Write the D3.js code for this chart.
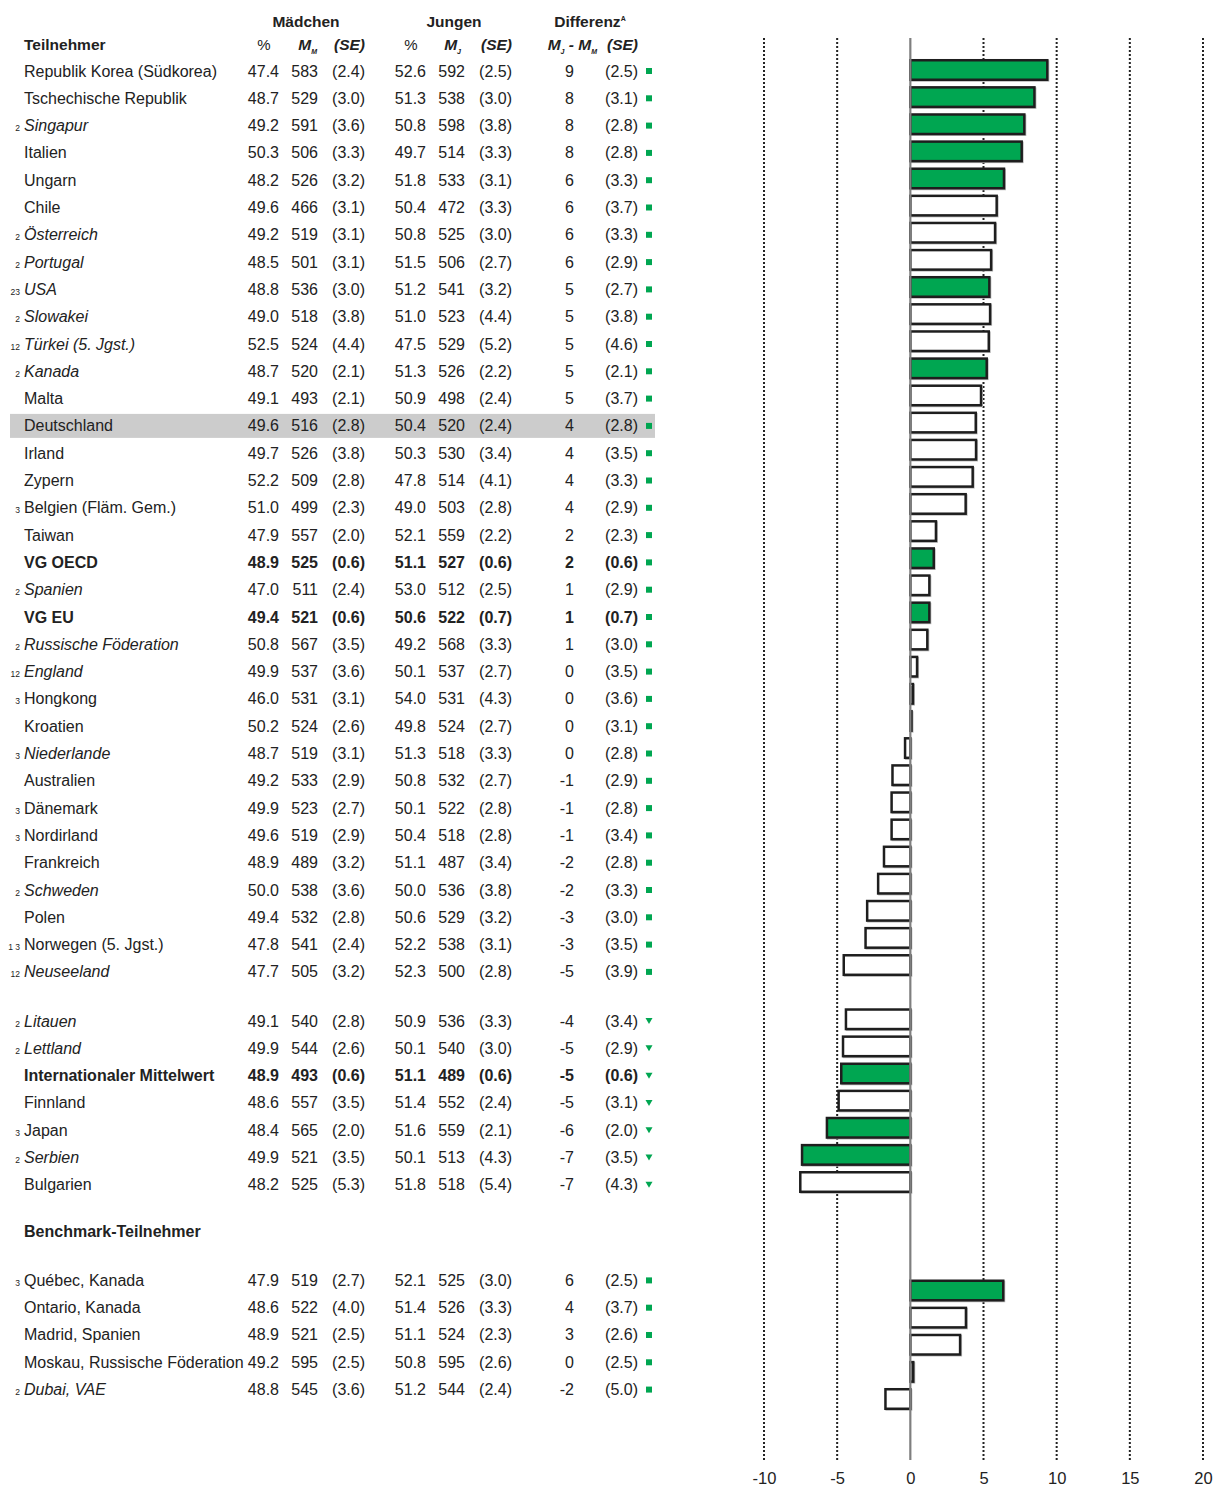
<!DOCTYPE html>
<html>
<head>
<meta charset="utf-8">
<script src="https://cdn.jsdelivr.net/npm/d3@7"></script>
<style>
  body { margin: 0; background: #fff; }
  svg { display: block; }
  text { font-family: "Liberation Sans", Arial, sans-serif; fill: #222; }
</style>
</head>
<body>
<svg id="chart" width="1215" height="1490"></svg>
<script>
// ---------- DATA ----------
const names = ["Republik Korea (Südkorea)","Tschechische Republik","Singapur","Italien","Ungarn","Chile","Österreich","Portugal","USA","Slowakei","Türkei (5. Jgst.)","Kanada","Malta","Deutschland","Irland","Zypern","Belgien (Fläm. Gem.)","Taiwan","VG OECD","Spanien","VG EU","Russische Föderation","England","Hongkong","Kroatien","Niederlande","Australien","Dänemark","Nordirland","Frankreich","Schweden","Polen","Norwegen (5. Jgst.)","Neuseeland",
  "Litauen","Lettland","Internationaler Mittelwert","Finnland","Japan","Serbien","Bulgarien",
  "Québec, Kanada","Ontario, Kanada","Madrid, Spanien","Moskau, Russische Föderation","Dubai, VAE"];
const groups = [0,0,0,0,0,0,0,0,0,0,0,0,0,0,0,0,0,0,0,0,0,0,0,0,0,0,0,0,0,0,0,0,0,0, 1,1,1,1,1,1,1, 2,2,2,2,2];
const footnotes = ["","","2","","","","2","2","23","2","12","2","","","","","3","","","2","","2","12","3","","3","","3","3","","2","","1 3","12",
  "2","2","","","3","2","", "3","","","","2"];
const italicRows = ["Singapur","Österreich","Portugal","USA","Slowakei","Türkei (5. Jgst.)","Kanada","Spanien","Russische Föderation","England","Niederlande","Schweden","Neuseeland","Litauen","Lettland","Serbien","Dubai, VAE"];
const boldRows = ["VG OECD","VG EU","Internationaler Mittelwert"];
const highlightRow = "Deutschland";
const girlsPct = ["47.4","48.7","49.2","50.3","48.2","49.6","49.2","48.5","48.8","49.0","52.5","48.7","49.1","49.6","49.7","52.2","51.0","47.9","48.9","47.0","49.4","50.8","49.9","46.0","50.2","48.7","49.2","49.9","49.6","48.9","50.0","49.4","47.8","47.7",
  "49.1","49.9","48.9","48.6","48.4","49.9","48.2", "47.9","48.6","48.9","49.2","48.8"];
const girlsMean = [583,529,591,506,526,466,519,501,536,518,524,520,493,516,526,509,499,557,525,511,521,567,537,531,524,519,533,523,519,489,538,532,541,505,
  540,544,493,557,565,521,525, 519,522,521,595,545];
const girlsSE = ["2.4","3.0","3.6","3.3","3.2","3.1","3.1","3.1","3.0","3.8","4.4","2.1","2.1","2.8","3.8","2.8","2.3","2.0","0.6","2.4","0.6","3.5","3.6","3.1","2.6","3.1","2.9","2.7","2.9","3.2","3.6","2.8","2.4","3.2",
  "2.8","2.6","0.6","3.5","2.0","3.5","5.3", "2.7","4.0","2.5","2.5","3.6"];
const boysPct = ["52.6","51.3","50.8","49.7","51.8","50.4","50.8","51.5","51.2","51.0","47.5","51.3","50.9","50.4","50.3","47.8","49.0","52.1","51.1","53.0","50.6","49.2","50.1","54.0","49.8","51.3","50.8","50.1","50.4","51.1","50.0","50.6","52.2","52.3",
  "50.9","50.1","51.1","51.4","51.6","50.1","51.8", "52.1","51.4","51.1","50.8","51.2"];
const boysMean = [592,538,598,514,533,472,525,506,541,523,529,526,498,520,530,514,503,559,527,512,522,568,537,531,524,518,532,522,518,487,536,529,538,500,
  536,540,489,552,559,513,518, 525,526,524,595,544];
const boysSE = ["2.5","3.0","3.8","3.3","3.1","3.3","3.0","2.7","3.2","4.4","5.2","2.2","2.4","2.4","3.4","4.1","2.8","2.2","0.6","2.5","0.7","3.3","2.7","4.3","2.7","3.3","2.7","2.8","2.8","3.4","3.8","3.2","3.1","2.8",
  "3.3","3.0","0.6","2.4","2.1","4.3","5.4", "3.0","3.3","2.3","2.6","2.4"];
const diffLabel = [9,8,8,8,6,6,6,6,5,5,5,5,5,4,4,4,4,2,2,1,1,1,0,0,0,0,-1,-1,-1,-2,-2,-3,-3,-5,
  -4,-5,-5,-5,-6,-7,-7, 6,4,3,0,-2];
const diffSE = ["2.5","3.1","2.8","2.8","3.3","3.7","3.3","2.9","2.7","3.8","4.6","2.1","3.7","2.8","3.5","3.3","2.9","2.3","0.6","2.9","0.7","3.0","3.5","3.6","3.1","2.8","2.9","2.8","3.4","2.8","3.3","3.0","3.5","3.9",
  "3.4","2.9","0.6","3.1","2.0","3.5","4.3", "2.5","3.7","2.6","2.5","5.0"];
const compareMarker = ["sq","sq","sq","sq","sq","sq","sq","sq","sq","sq","sq","sq","sq","sq","sq","sq","sq","sq","sq","sq","sq","sq","sq","sq","sq","sq","sq","sq","sq","sq","sq","sq","sq","sq",
  "tri","tri","tri","tri","tri","tri","tri", "sq","sq","sq","sq","sq"];
// unrounded differences (bar lengths)
const diffValue = [9.36,8.48,7.79,7.61,6.40,5.90,5.79,5.52,5.40,5.45,5.36,5.22,4.83,4.47,4.49,4.26,3.78,1.75,1.60,1.30,1.30,1.16,0.46,0.18,0.08,-0.36,-1.22,-1.28,-1.28,-1.80,-2.20,-2.95,-3.06,-4.55,
  -4.40,-4.60,-4.72,-4.90,-5.70,-7.40,-7.52, 6.35,3.80,3.40,0.20,-1.70];
const significant = [1,1,1,1,1,0,0,0,1,0,0,1,0,0,0,0,0,0,1,0,1,0,0,0,0,0,0,0,0,0,0,0,0,0,
  0,0,1,0,1,1,0, 1,0,0,0,0];
const axisTicks = [-10,-5,0,5,10,15,20];
const benchmarkTitle = "Benchmark-Teilnehmer";

// ---------- LAYOUT ----------
const GREEN = "#00a651";
const FS = 16;
const svg = d3.select("#chart");
const rowStep = 27.3, rowTop = 71;
const groupTextOffset = [0, 0.8, 3.3];
const groupBarOffset = [0, 1, 4];
const textSlot = i => i + groupTextOffset[groups[i]];
const rowY = i => rowTop + textSlot(i) * rowStep;
const barSlot = i => i + groupBarOffset[groups[i]];

const x = d3.scaleLinear().domain([-10, 20]).range([764, 1203]);
const yBar = d3.scaleBand().domain(d3.range(50)).range([56.44, 1412.56]).paddingInner(0.28).paddingOuter(0.14);

// highlight
const hi = names.indexOf(highlightRow);
svg.append("rect").attr("x", 10).attr("y", rowY(hi) - 12).attr("width", 645).attr("height", 24).attr("fill", "#cccccc");

// headers
const hdr = svg.append("g").attr("font-weight", "bold").attr("font-size", 15.5);
hdr.append("text").attr("x", 306).attr("y", 27).attr("text-anchor", "middle").text("Mädchen");
hdr.append("text").attr("x", 454).attr("y", 27).attr("text-anchor", "middle").text("Jungen");
const dt = hdr.append("text").attr("x", 590).attr("y", 27).attr("text-anchor", "middle");
dt.append("tspan").text("Differenz");
dt.append("tspan").attr("font-size", 7).attr("dy", -6).text("A");
hdr.append("text").attr("x", 24).attr("y", 50).text("Teilnehmer");
function pctHead(cx) {
  svg.append("text").attr("x", cx).attr("y", 50).attr("text-anchor", "middle").attr("font-size", 15).attr("fill", "#444").text("%");
}
function mHead(xEnd, sub) {
  const t = svg.append("text").attr("x", xEnd).attr("y", 50).attr("text-anchor", "end")
    .attr("font-weight", "bold").attr("font-style", "italic").attr("font-size", 15.5);
  t.append("tspan").text("M");
  t.append("tspan").attr("font-size", 7).attr("dy", 4).text(sub);
}
function seHead(xEnd) {
  svg.append("text").attr("x", xEnd).attr("y", 50).attr("text-anchor", "end")
    .attr("font-weight", "bold").attr("font-style", "italic").attr("font-size", 15.5).text("(SE)");
}
pctHead(264); mHead(317, "M"); seHead(365);
pctHead(411); mHead(461, "J"); seHead(512);
{
  const t = svg.append("text").attr("x", 597).attr("y", 50).attr("text-anchor", "end")
    .attr("font-weight", "bold").attr("font-style", "italic").attr("font-size", 15.5);
  t.append("tspan").text("M");
  t.append("tspan").attr("font-size", 7).attr("dy", 4).text("J");
  t.append("tspan").attr("dy", -4).text(" - M");
  t.append("tspan").attr("font-size", 7).attr("dy", 4).text("M");
}
seHead(638);

// rows
const rows = svg.append("g").attr("font-size", FS);
names.forEach((n, i) => {
  const y = rowY(i) + 5.5;
  const bold = boldRows.includes(n);
  const g = rows.append("g").attr("font-weight", bold ? "bold" : "normal");
  if (footnotes[i]) {
    g.append("text").attr("x", 20).attr("y", y).attr("text-anchor", "end").attr("font-size", 8.5)
      .attr("font-weight", "normal").style("white-space", "pre").text(footnotes[i]);
  }
  g.append("text").attr("x", 24).attr("y", y).attr("font-style", italicRows.includes(n) ? "italic" : "normal").text(n);
  const cols = [
    [279, girlsPct[i]], [318, girlsMean[i]], [365, "(" + girlsSE[i] + ")"],
    [426, boysPct[i]], [465, boysMean[i]], [512, "(" + boysSE[i] + ")"],
    [574, diffLabel[i]], [638, "(" + diffSE[i] + ")"]
  ];
  cols.forEach(([cx, v]) => g.append("text").attr("x", cx).attr("y", y).attr("text-anchor", "end").text(v));
  const my = rowY(i);
  if (compareMarker[i] === "sq") {
    svg.append("rect").attr("x", 646).attr("y", my - 3).attr("width", 6).attr("height", 6).attr("fill", GREEN);
  } else {
    svg.append("path").attr("d", `M${645.5},${my - 3} L${652.5},${my - 3} L${649},${my + 3} Z`).attr("fill", GREEN);
  }
});
svg.append("text").attr("x", 24).attr("y", rowTop + 42.5 * rowStep + 5.5)
  .attr("font-weight", "bold").attr("font-size", FS).text(benchmarkTitle);

// gridlines
const gridTop = 38, gridBottom = 1460;
svg.append("g").selectAll("line").data(axisTicks.filter(t => t !== 0)).join("line")
  .attr("x1", d => x(d)).attr("x2", d => x(d)).attr("y1", gridTop).attr("y2", gridBottom)
  .attr("stroke", "#222").attr("stroke-width", 2).attr("stroke-dasharray", "2,2");

// bars
const bars = svg.append("g");
bars.selectAll("rect.shadow").data(d3.range(names.length)).join("rect")
  .attr("x", i => Math.min(x(0), x(diffValue[i])) + 1).attr("y", i => yBar(barSlot(i)) + 1)
  .attr("width", i => Math.abs(x(diffValue[i]) - x(0))).attr("height", yBar.bandwidth())
  .attr("fill", "none").attr("stroke", "#bbb").attr("stroke-width", 2);
bars.selectAll("rect.bar").data(d3.range(names.length)).join("rect")
  .attr("x", i => Math.min(x(0), x(diffValue[i]))).attr("y", i => yBar(barSlot(i)))
  .attr("width", i => Math.abs(x(diffValue[i]) - x(0))).attr("height", yBar.bandwidth())
  .attr("fill", i => significant[i] ? GREEN : "#fff").attr("stroke", "#1e1e1e").attr("stroke-width", 2.5);

// zero line
svg.append("line").attr("x1", x(0)).attr("x2", x(0)).attr("y1", gridTop).attr("y2", gridBottom)
  .attr("stroke", "#7f7f7f").attr("stroke-width", 2.2);

// axis labels
const axis = svg.append("g").attr("transform", `translate(0,${1472})`)
  .call(d3.axisBottom(x).tickValues(axisTicks).tickSize(0).tickPadding(0).tickFormat(d => String(d)));
axis.select(".domain").remove();
axis.selectAll("text").attr("font-size", 16.5).attr("fill", "#333")
  .attr("font-family", "'Liberation Sans', Arial, sans-serif");
</script>
</body>
</html>
